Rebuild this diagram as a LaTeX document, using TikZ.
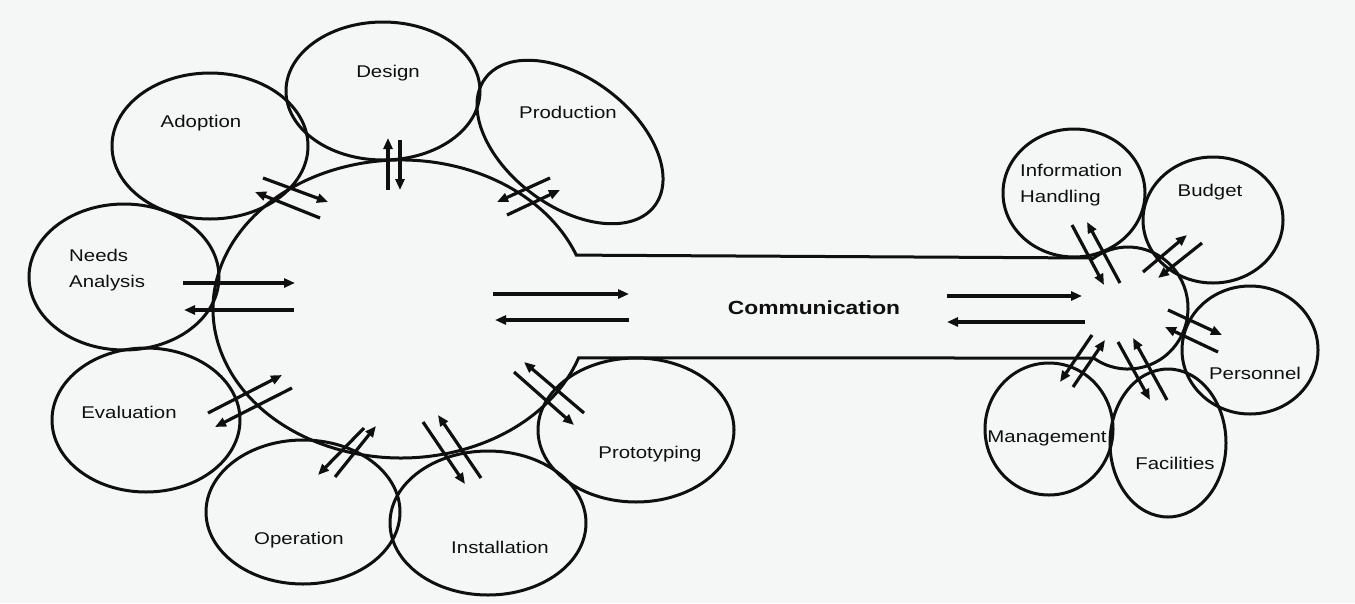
\documentclass[tikz,border=0pt]{standalone}
\usepackage{fontspec}
\setmainfont{Liberation Sans}[FakeStretch=1.2]
\usetikzlibrary{arrows.meta,shapes.geometric}
\definecolor{paper}{RGB}{245,247,247}
\definecolor{ink}{RGB}{15,15,15}
\begin{document}
\begin{tikzpicture}[x=1pt,y=-1pt,
  stage/.style={draw=ink, ellipse, line width=3pt, inner sep=0pt},
  lab/.style={text=ink, font=\fontsize{17}{26}\selectfont, inner sep=0pt},
  flow/.style={draw=ink, line width=3.2pt, -{Triangle[length=11pt,width=9pt]}},
  outline/.style={draw=ink, line width=3pt, line join=miter}]
  % canvas
  \fill[paper] (0,0) rectangle (1355,603);
  \useasboundingbox (0,0) rectangle (1355,603);

  % central ring, communication channel and the small ring on the right
  \draw[outline] (1093.6,258) -- (576.3,255.1)
    arc[start angle=-21.2, end angle=-340.8, x radius=188, y radius=149]
    -- (1093.6,358)
    arc[start angle=125, end angle=-125, x radius=60, y radius=61] -- cycle;

  % development stages
  \node[stage, minimum width=194pt, minimum height=138pt] (design) at (383,91) {};
  \node[stage, minimum width=196pt, minimum height=146pt] (adoption) at (210,146) {};
  \node[stage, rotate=-37, minimum width=212pt, minimum height=128pt] (production) at (570,142) {};
  \node[stage, minimum width=190pt, minimum height=146pt] (needs) at (124,277) {};
  \node[stage, minimum width=188pt, minimum height=144pt] (evaluation) at (146,420) {};
  \node[stage, minimum width=194pt, minimum height=144pt] (operation) at (303,512) {};
  \node[stage, minimum width=196pt, minimum height=144pt] (installation) at (488,523) {};
  \node[stage, minimum width=196pt, minimum height=144pt] (prototyping) at (636,430) {};

  % support functions
  \node[stage, minimum width=142pt, minimum height=128pt] (info) at (1074,193) {};
  \node[stage, minimum width=140pt, minimum height=126pt] (budget) at (1213,220) {};
  \node[stage, minimum width=136pt, minimum height=128pt] (personnel) at (1250,350) {};
  \node[stage, minimum width=128pt, minimum height=132pt] (management) at (1049,429) {};
  \node[stage, minimum width=116pt, minimum height=148pt] (facilities) at (1168,443) {};

  % labels
  \node[lab] (designL) at (388,73) {Design};
  \node[lab] (adoptionL) at (201,123) {Adoption};
  \node[lab] (productionL) at (568,112) {Production};
  \node[lab, align=left, anchor=west] (needsL) at (69,270) {Needs\\Analysis};
  \node[lab] (evaluationL) at (129,412) {Evaluation};
  \node[lab] (operationL) at (299,540) {Operation};
  \node[lab] (installationL) at (500,547) {Installation};
  \node[lab] (prototypingL) at (650,454) {Prototyping};
  \node[lab, align=left, anchor=west] (infoL) at (1020,185) {Information\\Handling};
  \node[lab] (budgetL) at (1210,192) {Budget};
  \node[lab] (personnelL) at (1255,373) {Personnel};
  \node[lab] (managementL) at (1047,438) {Management};
  \node[lab] (facilitiesL) at (1175,463) {Facilities};
  \node[lab, font=\fontsize{19}{23}\selectfont\bfseries] (comm) at (814,308) {Communication};

  % two-way exchanges between the central ring and each stage
  \draw[flow] (183,283) -- (295,283);
  \draw[flow] (294,310) -- (184,310);
  \draw[flow] (263,178) -- (328,202);
  \draw[flow] (320,218) -- (255,192);
  \draw[flow] (388,190) -- (388,138);
  \draw[flow] (400,140) -- (400,190);
  \draw[flow] (550,178) -- (497,202);
  \draw[flow] (507,215) -- (560,190);
  \draw[flow] (208,413) -- (282,375);
  \draw[flow] (292,388) -- (215,427);
  \draw[flow] (364,428) -- (318,475);
  \draw[flow] (335,477) -- (376,426);
  \draw[flow] (423,422) -- (465,484);
  \draw[flow] (481,478) -- (438,415);
  \draw[flow] (514,372) -- (574,425);
  \draw[flow] (584,413) -- (524,362);

  % traffic along the channel
  \draw[flow] (493,294) -- (629,294);
  \draw[flow] (629,320) -- (495,320);
  \draw[flow] (947,296) -- (1082,296);
  \draw[flow] (1085,322) -- (947,322);

  % exchanges between the small ring and the support functions
  \draw[flow] (1072,225) -- (1104,285);
  \draw[flow] (1120,283) -- (1087,222);
  \draw[flow] (1143,272) -- (1187,235);
  \draw[flow] (1202,243) -- (1158,278);
  \draw[flow] (1168,310) -- (1222,335);
  \draw[flow] (1218,352) -- (1165,327);
  \draw[flow] (1092,335) -- (1060,382);
  \draw[flow] (1073,387) -- (1105,340);
  \draw[flow] (1118,342) -- (1150,400);
  \draw[flow] (1167,400) -- (1133,338);
\end{tikzpicture}
\end{document}
